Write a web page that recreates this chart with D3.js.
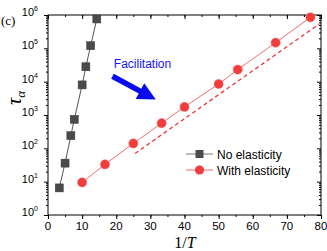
<!DOCTYPE html>
<html lang="en">
  <head>
    <meta charset="UTF-8" />
    <title>tau alpha vs 1/T</title>
    <script src="https://cdn.jsdelivr.net/npm/d3@7"></script>
    <style>
      body {
        margin: 0;
        padding: 0;
        background: #fff;
      }
      text {
        font-family: 'Liberation Sans', Arial, sans-serif;
      }
    </style>
  </head>

  <body>
    <svg width="327" height="251"></svg>

    <script>
      // data
      var noElasX = [3.3, 5, 6.7, 7.7, 10, 11.1, 12.5, 14.3]
      var noElasY = [6.5, 36, 240, 740, 8000, 28000, 120000, 760000]
      var withElasX = [10, 16.7, 25, 33.3, 40, 50, 55.6, 66.7, 76.9]
      var withElasY = [9.5, 33, 140, 570, 1750, 8500, 23000, 148000, 850000]
      // dashed guide line
      var guideX = [25.5, 79.5]
      var guideY = [70, 540000]
      var xTicks = [0, 10, 20, 30, 40, 50, 60, 70, 80]
      var yExps = [0, 1, 2, 3, 4, 5, 6]

      var margin = { top: 15, right: 6, bottom: 36, left: 48 }
      var svg = d3.select('svg')
      var width = +svg.attr('width')
      var height = +svg.attr('height')
      var right = width - margin.right
      var bottom = height - margin.bottom

      var x = d3.scaleLinear().domain([0, 80]).range([margin.left, right])
      var y = d3.scaleLog().domain([1, 1e6]).range([bottom, margin.top])

      var minorX = d3.range(0, 81, 5)
      var majorY = yExps.map((e) => Math.pow(10, e))
      var minorY = []
      yExps.slice(0, -1).forEach(function (e) {
        for (var k = 2; k < 10; k++) minorY.push(k * Math.pow(10, e))
      })

      function style(g) {
        g.select('.domain').remove()
        g.selectAll('line').attr('stroke', '#000').attr('stroke-width', 1)
        g.selectAll('text').remove()
      }

      // bottom axis (outward ticks)
      svg.append('g').attr('transform', `translate(0,${bottom})`)
        .call(d3.axisBottom(x).tickValues(xTicks).tickSize(4)).call(style)
      svg.append('g').attr('transform', `translate(0,${bottom})`)
        .call(d3.axisBottom(x).tickValues(minorX).tickSize(2)).call(style)
      // top axis (inward ticks)
      svg.append('g').attr('transform', `translate(0,${margin.top})`)
        .call(d3.axisTop(x).tickValues(xTicks).tickSize(-4)).call(style)
      svg.append('g').attr('transform', `translate(0,${margin.top})`)
        .call(d3.axisTop(x).tickValues(minorX).tickSize(-2)).call(style)
      // left axis
      svg.append('g').attr('transform', `translate(${margin.left},0)`)
        .call(d3.axisLeft(y).tickValues(majorY).tickSize(4)).call(style)
      svg.append('g').attr('transform', `translate(${margin.left},0)`)
        .call(d3.axisLeft(y).tickValues(minorY).tickSize(2)).call(style)
      // right axis (inward)
      svg.append('g').attr('transform', `translate(${right},0)`)
        .call(d3.axisRight(y).tickValues(majorY).tickSize(-4)).call(style)
      svg.append('g').attr('transform', `translate(${right},0)`)
        .call(d3.axisRight(y).tickValues(minorY).tickSize(-2)).call(style)

      // frame
      svg.append('rect')
        .attr('x', margin.left).attr('y', margin.top)
        .attr('width', right - margin.left).attr('height', bottom - margin.top)
        .attr('fill', 'none').attr('stroke', '#000').attr('stroke-width', 1)

      // x tick labels
      svg.append('g').selectAll('text').data(xTicks).enter().append('text')
        .attr('x', (d) => x(d)).attr('y', bottom + 15)
        .attr('text-anchor', 'middle').attr('font-size', 11.5)
        .text((d) => d)

      // y tick labels 10^n
      var yl = svg.append('g').selectAll('text').data(yExps).enter().append('text')
        .attr('x', margin.left - 10).attr('y', (d) => y(Math.pow(10, d)) + 1)
        .attr('text-anchor', 'end').attr('font-size', 11)
      yl.append('tspan').text('10')
      yl.append('tspan').attr('font-size', 7).attr('dy', -5).text((d) => d)

      // axis titles
      var xt = svg.append('text').attr('x', 185).attr('y', 248)
        .attr('text-anchor', 'middle').attr('font-size', 16)
        .style('font-family', "'Liberation Serif', 'DejaVu Serif', serif")
      xt.append('tspan').text('1/')
      xt.append('tspan').attr('font-style', 'italic').text('T')

      var yt = svg.append('text')
        .attr('transform', 'translate(21,98) rotate(-90)')
        .attr('text-anchor', 'middle').attr('font-size', 20)
        .style('font-family', "'Liberation Serif', 'DejaVu Serif', serif")
      yt.append('tspan').attr('font-style', 'italic').text('τ')
      yt.append('tspan').attr('font-size', 13).attr('dy', 4).attr('font-style', 'italic').text('α')

      svg.append('text').attr('x', 1).attr('y', 25).attr('font-size', 13)
        .style('font-family', "'Liberation Serif', 'DejaVu Serif', serif")
        .text('(c)')

      // lines
      var line = d3.line().x((d) => x(d[0])).y((d) => y(d[1]))
      var noElas = d3.zip(noElasX, noElasY)
      var withElas = d3.zip(withElasX, withElasY)

      svg.append('path').datum(d3.zip(guideX, guideY)).attr('d', line)
        .attr('fill', 'none').attr('stroke', '#f03535').attr('stroke-width', 1.3)
        .attr('stroke-dasharray', '4,3')

      svg.append('path').datum(noElas).attr('d', line)
        .attr('fill', 'none').attr('stroke', '#555').attr('stroke-width', 1)
      svg.append('path').datum(withElas).attr('d', line)
        .attr('fill', 'none').attr('stroke', '#f26a6a').attr('stroke-width', 1)

      var sq = 8
      svg.append('g').selectAll('rect').data(noElas).enter().append('rect')
        .attr('x', (d) => x(d[0]) - sq / 2).attr('y', (d) => y(d[1]) - sq / 2)
        .attr('width', sq).attr('height', sq)
        .attr('fill', '#4a4a4a').attr('stroke', '#3a3a3a').attr('stroke-width', 0.5)

      svg.append('g').selectAll('circle').data(withElas).enter().append('circle')
        .attr('cx', (d) => x(d[0])).attr('cy', (d) => y(d[1])).attr('r', 4.6)
        .attr('fill', '#f03c3c').attr('stroke', '#f26a6a').attr('stroke-width', 0.5)

      // annotation
      svg.append('text').attr('x', x(19.3)).attr('y', y(30000) + 2)
        .attr('font-size', 12).attr('fill', '#1414ff').text('Facilitation')

      var a0 = [x(18.9), y(14500)]
      var a1 = [x(31.6), y(2900)]
      var ang = Math.atan2(a1[1] - a0[1], a1[0] - a0[0])
      var headL = 18
      var headW = 9
      var bx = a1[0] - headL * Math.cos(ang)
      var by = a1[1] - headL * Math.sin(ang)
      var nx = -Math.sin(ang)
      var ny = Math.cos(ang)
      svg.append('line').attr('x1', a0[0]).attr('y1', a0[1]).attr('x2', bx + 1).attr('y2', by + 0.5)
        .attr('stroke', '#0a0aee').attr('stroke-width', 5.5)
      svg.append('path')
        .attr('d', `M${a1[0]},${a1[1]}L${bx + nx * headW},${by + ny * headW}L${bx - nx * headW},${by - ny * headW}Z`)
        .attr('fill', '#0a0aee')

      // legend
      var legend = svg.append('g').attr('transform', 'translate(186,154)')
      legend.append('line').attr('x1', 0).attr('x2', 27).attr('y1', 0).attr('y2', 0)
        .attr('stroke', '#777').attr('stroke-width', 1)
      legend.append('rect').attr('x', 13.5 - sq / 2).attr('y', -sq / 2)
        .attr('width', sq).attr('height', sq).attr('fill', '#4a4a4a')
      legend.append('text').attr('x', 31).attr('y', 4.5).attr('font-size', 12).text('No elasticity')
      legend.append('line').attr('x1', 0).attr('x2', 27).attr('y1', 16).attr('y2', 16)
        .attr('stroke', '#f26a6a').attr('stroke-width', 1)
      legend.append('circle').attr('cx', 13.5).attr('cy', 16).attr('r', 4.6).attr('fill', '#f03c3c')
      legend.append('text').attr('x', 31).attr('y', 20.5).attr('font-size', 12).text('With elasticity')
    </script>
  </body>
</html>
